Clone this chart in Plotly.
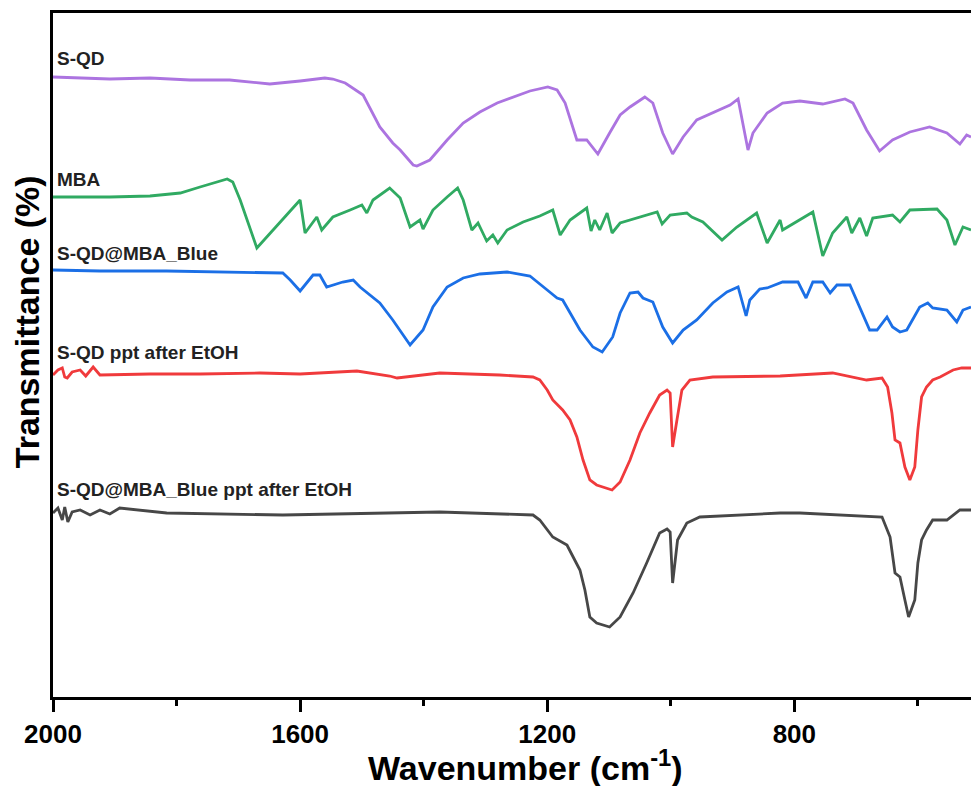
import plotly.graph_objects as go

# ---------------- data (wavenumber in cm^-1, transmittance in offset a.u.) ----------------
sqd_wn = [2000, 1908, 1843, 1778, 1714, 1649, 1600, 1560, 1547, 1527, 1498, 1471, 1450, 1438, 1417,
          1411, 1390, 1362, 1336, 1309, 1281, 1255, 1228, 1199, 1184, 1171, 1152, 1136, 1118, 1099,
          1082, 1066, 1042, 1029, 1013, 997, 980, 958, 932, 904, 891, 875, 867, 844, 819,
          791, 754, 718, 705, 683, 662, 641, 613, 581, 553, 532, 521, 514]
sqd_t = [62.0, 61.8, 61.9, 61.7, 61.7, 61.3, 61.6, 61.9, 61.8, 61.4, 60.2, 57.0, 55.4, 54.7, 53.2,
         53.1, 53.7, 55.7, 57.4, 58.5, 59.4, 60.0, 60.6, 61.0, 60.7, 59.4, 55.7, 55.7, 54.3, 56.4,
         58.2, 59.0, 60.0, 59.4, 56.4, 54.3, 56.0, 57.7, 58.4, 59.2, 59.8, 54.7, 56.4, 58.4, 59.4,
         59.6, 59.3, 59.8, 59.4, 56.7, 54.6, 55.7, 56.5, 57.0, 56.4, 55.3, 56.2, 56.0]

mba_wn = [2000, 1908, 1843, 1794, 1762, 1718, 1709, 1697, 1670, 1600, 1592, 1573, 1565, 1547, 1519,
          1500, 1492, 1482, 1455, 1438, 1422, 1406, 1401, 1385, 1362, 1345, 1336, 1322, 1312, 1298,
          1288, 1280, 1265, 1239, 1212, 1191, 1179, 1163, 1136, 1129, 1123, 1115, 1103, 1095, 1082,
          1050, 1022, 1014, 1001, 974, 966, 948, 917, 893, 861, 844, 823, 819, 791, 770,
          754, 738, 715, 707, 694, 683, 673, 641, 629, 613, 569, 553, 540, 527, 514]
mba_t = [50.0, 50.0, 50.1, 50.4, 51.0, 51.8, 51.5, 49.7, 44.9, 49.7, 46.4, 48.0, 46.7, 48.0, 48.7,
         49.2, 48.4, 49.7, 50.9, 49.9, 47.0, 47.7, 46.8, 48.7, 50.0, 50.9, 49.7, 46.7, 47.4, 45.6,
         46.2, 45.4, 46.7, 47.5, 48.1, 48.7, 46.2, 47.7, 48.9, 46.6, 47.7, 46.7, 48.4, 46.4, 47.4,
         48.0, 48.5, 47.3, 48.2, 48.4, 48.0, 47.5, 45.7, 47.0, 48.4, 45.4, 47.7, 46.7, 47.7, 48.5,
         44.1, 46.4, 48.0, 46.4, 47.9, 46.1, 47.9, 48.2, 47.5, 48.7, 48.8, 47.7, 45.2, 47.0, 46.7]

blue_wn = [2000, 1924, 1816, 1714, 1628, 1616, 1600, 1579, 1568, 1557, 1531, 1514, 1503, 1471, 1450,
           1422, 1401, 1385, 1362, 1336, 1309, 1265, 1228, 1200, 1184, 1175, 1147, 1126, 1111, 1094,
           1082, 1066, 1053, 1045, 1029, 1013, 997, 980, 958, 932, 909, 891, 885, 878, 872,
           856, 844, 819, 794, 781, 770, 754, 742, 731, 710, 694, 678, 666, 650, 641,
           629, 618, 597, 584, 576, 553, 537, 527, 514]
blue_t = [42.7, 42.6, 42.6, 42.5, 42.4, 41.7, 40.6, 42.2, 42.2, 41.0, 41.5, 41.7, 41.0, 39.4, 37.7,
          35.2, 36.7, 39.0, 41.0, 41.9, 42.3, 42.5, 42.1, 40.7, 39.9, 39.7, 36.7, 35.0, 34.5, 36.0,
          38.4, 40.4, 40.5, 39.9, 39.5, 37.0, 35.4, 36.7, 37.7, 39.4, 40.5, 41.0, 39.7, 38.1, 39.7,
          40.8, 40.9, 41.5, 41.5, 39.9, 41.5, 41.5, 40.4, 41.2, 41.2, 39.0, 36.7, 36.7, 38.0, 37.0,
          36.5, 36.7, 39.0, 39.4, 38.9, 38.7, 37.5, 38.7, 39.0]

red_wn = [2000, 1992, 1985, 1981, 1977, 1969, 1956, 1947, 1935, 1924, 1843, 1762, 1665, 1600, 1508,
          1455, 1443, 1374, 1277, 1223, 1212, 1200, 1191, 1175, 1163, 1152, 1142, 1131, 1120, 1103,
          1095, 1082, 1066, 1050, 1034, 1018, 1006, 1001, 997, 990, 982, 969, 932, 823, 738,
          683, 658, 649, 642, 637, 629, 621, 613, 605, 600, 594, 586, 576, 564, 543,
          529, 514]
red_t = [32.2, 32.7, 32.9, 32.0, 31.9, 32.5, 32.7, 32.1, 33.0, 32.2, 32.3, 32.3, 32.4, 32.3, 32.6,
         32.1, 31.9, 32.4, 32.2, 32.0, 31.7, 30.7, 29.7, 28.7, 27.7, 26.0, 23.7, 21.7, 21.2, 20.9,
         20.7, 21.5, 23.7, 26.4, 28.4, 30.2, 30.7, 30.4, 25.0, 27.7, 30.7, 31.7, 32.0, 32.1, 32.4,
         31.7, 31.9, 31.0, 28.4, 25.7, 25.4, 23.0, 21.7, 23.0, 26.7, 30.0, 31.0, 31.7, 32.0, 32.7,
         32.9, 32.9]

blk_wn = [2000, 1992, 1985, 1981, 1976, 1969, 1956, 1940, 1924, 1908, 1892, 1816, 1628, 1438, 1374,
          1223, 1212, 1191, 1168, 1158, 1147, 1139, 1131, 1120, 1099, 1082, 1061, 1039, 1018, 1006,
          1001, 997, 989, 974, 953, 823, 791, 658, 645, 637, 629, 621, 615, 605, 600,
          594, 586, 576, 553, 532, 514]
blk_t = [18.4, 18.9, 17.7, 19.0, 17.5, 18.5, 18.7, 18.2, 18.7, 18.3, 18.9, 18.4, 18.2, 18.4, 18.5,
         18.2, 17.7, 16.0, 15.2, 14.0, 12.7, 10.7, 8.0, 7.4, 7.0, 8.0, 10.4, 13.4, 16.4, 16.8,
         16.5, 11.4, 15.7, 17.4, 18.0, 18.4, 18.4, 18.0, 16.0, 12.4, 12.0, 9.7, 8.0, 9.7, 13.4,
         15.7, 16.7, 17.7, 17.7, 18.7, 18.7]

series_names = ["S-QD", "MBA", "S-QD@MBA_Blue", "S-QD ppt after EtOH", "S-QD@MBA_Blue ppt after EtOH"]
series_wn = [sqd_wn, mba_wn, blue_wn, red_wn, blk_wn]
series_t = [sqd_t, mba_t, blue_t, red_t, blk_t]
label_t = [63.9, 51.8, 44.4, 34.5, 20.8]

x_ticks = [2000, 1600, 1200, 800]
x_minor = [1800, 1400, 1000, 600]

# ---------------- styling ----------------
colors = ["#AC74E0", "#30AA62", "#1B6FE6", "#F03A3C", "#474747"]
FONT = "Liberation Sans, Arial, sans-serif"

fig = go.Figure()
for name, wn, t, c in zip(series_names, series_wn, series_t, colors):
    fig.add_trace(go.Scatter(x=wn, y=t, mode="lines", name=name,
                             line=dict(color=c, width=2.8), showlegend=False))

for name, yl in zip(series_names, label_t):
    fig.add_annotation(x=1996, y=yl, xref="x", yref="y", text=name, showarrow=False,
                       xanchor="left", yanchor="middle",
                       font=dict(family=FONT, size=19, color="#222", weight="bold"))

fig.add_annotation(x=-0.0283, y=0.548, xref="paper", yref="paper",
                   text="Transmittance (%)", textangle=-90, showarrow=False,
                   xanchor="center", yanchor="middle",
                   font=dict(family=FONT, size=34, color="black", weight="bold"))
fig.add_annotation(x=0.515, y=-0.1, xref="paper", yref="paper",
                   text="Wavenumber (cm<sup>-1</sup>)", showarrow=False,
                   xanchor="center", yanchor="middle",
                   font=dict(family=FONT, size=34, color="black", weight="bold"))

fig.update_xaxes(range=[2000, 514], tickvals=x_ticks, ticktext=[str(v) for v in x_ticks],
                 ticks="outside", ticklen=12, tickwidth=2.5, tickcolor="black",
                 minor=dict(tickvals=x_minor, ticks="outside", ticklen=6,
                            tickwidth=2.5, tickcolor="black"),
                 showline=True, linewidth=2.5, linecolor="black", mirror=True,
                 showgrid=False, zeroline=False,
                 tickfont=dict(family=FONT, size=26, color="black", weight="bold"))
fig.update_yaxes(range=[0, 68.4], showticklabels=False, ticks="",
                 showline=True, linewidth=2.5, linecolor="black",
                 showgrid=False, zeroline=False)

fig.update_layout(width=971, height=786, margin=dict(l=53, r=0, t=13, b=89),
                  plot_bgcolor="white", paper_bgcolor="white")

fig.write_html("out.html", config={"displayModeBar": False},
               post_script="document.body.style.margin='0';document.body.style.overflow='hidden';")
